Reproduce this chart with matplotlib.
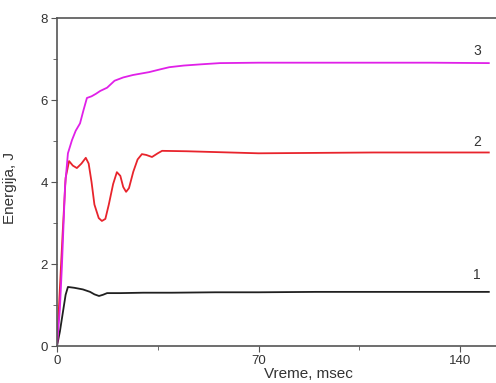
import matplotlib.pyplot as plt
from matplotlib.ticker import MultipleLocator

plt.rcParams['font.family'] = ['Liberation Sans', 'DejaVu Sans']

# curve 1 (black)
t1 = [0, 1, 2, 3, 3.8, 6, 9, 11.5, 13, 14.6, 16, 17.4, 22, 30, 40, 55, 70, 90, 110, 130, 150]
e1 = [0, 0.35, 0.8, 1.25, 1.44, 1.42, 1.38, 1.32, 1.26, 1.22, 1.25, 1.29, 1.29, 1.30, 1.30, 1.31, 1.31, 1.32, 1.32, 1.32, 1.32]

# curve 2 (red)
t2 = [0, 1, 2, 3, 4.2, 5.5, 6.9, 8.5, 10, 11, 12, 13, 14.5, 15.6, 16.8, 18, 19.5, 20.8, 22, 23, 24, 25, 26.5, 28, 29.5, 31, 33, 35, 36.5,
      45, 60, 70, 90, 110, 130, 150]
e2 = [0, 1.4, 2.8, 4.1, 4.51, 4.4, 4.34, 4.45, 4.59, 4.45, 4.0, 3.45, 3.12, 3.05, 3.1, 3.45, 3.95, 4.24, 4.15, 3.88, 3.76, 3.85, 4.25, 4.55, 4.68, 4.66, 4.61, 4.7, 4.76,
      4.75, 4.72, 4.70, 4.71, 4.72, 4.72, 4.72]

# curve 3 (magenta)
t3 = [0, 1, 1.7, 2.8, 3.8, 5.2, 6.5, 8, 9.2, 10.4, 12, 13.5, 15, 17.4, 20, 23, 26.4, 32, 36, 39, 44, 50, 56.6,
      70, 90, 110, 130, 150]
e3 = [0, 0.9, 1.93, 3.9, 4.7, 5.02, 5.25, 5.43, 5.75, 6.05, 6.09, 6.15, 6.22, 6.3, 6.47, 6.55, 6.61, 6.68, 6.75, 6.8, 6.84, 6.87, 6.9,
      6.91, 6.91, 6.91, 6.91, 6.9]

labels = ['1', '2', '3']
label_y = [1.72, 4.98, 7.2]

fig = plt.figure(figsize=(4.96, 3.83), dpi=100)
ax = fig.add_axes([0.1149, 0.0966, 0.8851, 0.8564])
ax.plot(t1, e1, color='#202020', lw=1.3)
ax.plot(t2, e2, color='#e8242c', lw=1.3)
ax.plot(t3, e3, color='#e020e8', lw=1.3)
for lab, yy in zip(labels, label_y):
    ax.text(146, yy, lab, fontsize=10, color='#333333', ha='center', va='center')

ax.set_xlim(0, 152.5)
ax.set_ylim(0, 8)
ax.xaxis.set_major_locator(MultipleLocator(70))
ax.xaxis.set_minor_locator(MultipleLocator(35))
ax.yaxis.set_major_locator(MultipleLocator(2))
ax.yaxis.set_minor_locator(MultipleLocator(1))
ax.spines['right'].set_visible(False)
for s in ['left', 'bottom', 'top']:
    ax.spines[s].set_color('#555555')
    ax.spines[s].set_linewidth(1.2)
ax.tick_params(which='both', direction='out', colors='#555555', labelcolor='#333333', labelsize=9.5, pad=2.5)
ax.tick_params(which='major', length=4)
ax.tick_params(which='minor', length=3)
ax.set_xlabel('Vreme, msec', fontsize=11, color='#333333')
ax.set_ylabel('Energija, J', fontsize=11, color='#333333')
ax.xaxis.set_label_coords(0.572, -0.064)
ax.yaxis.set_label_coords(-0.091, 0.483)
fig.savefig('out.png', dpi=100)
